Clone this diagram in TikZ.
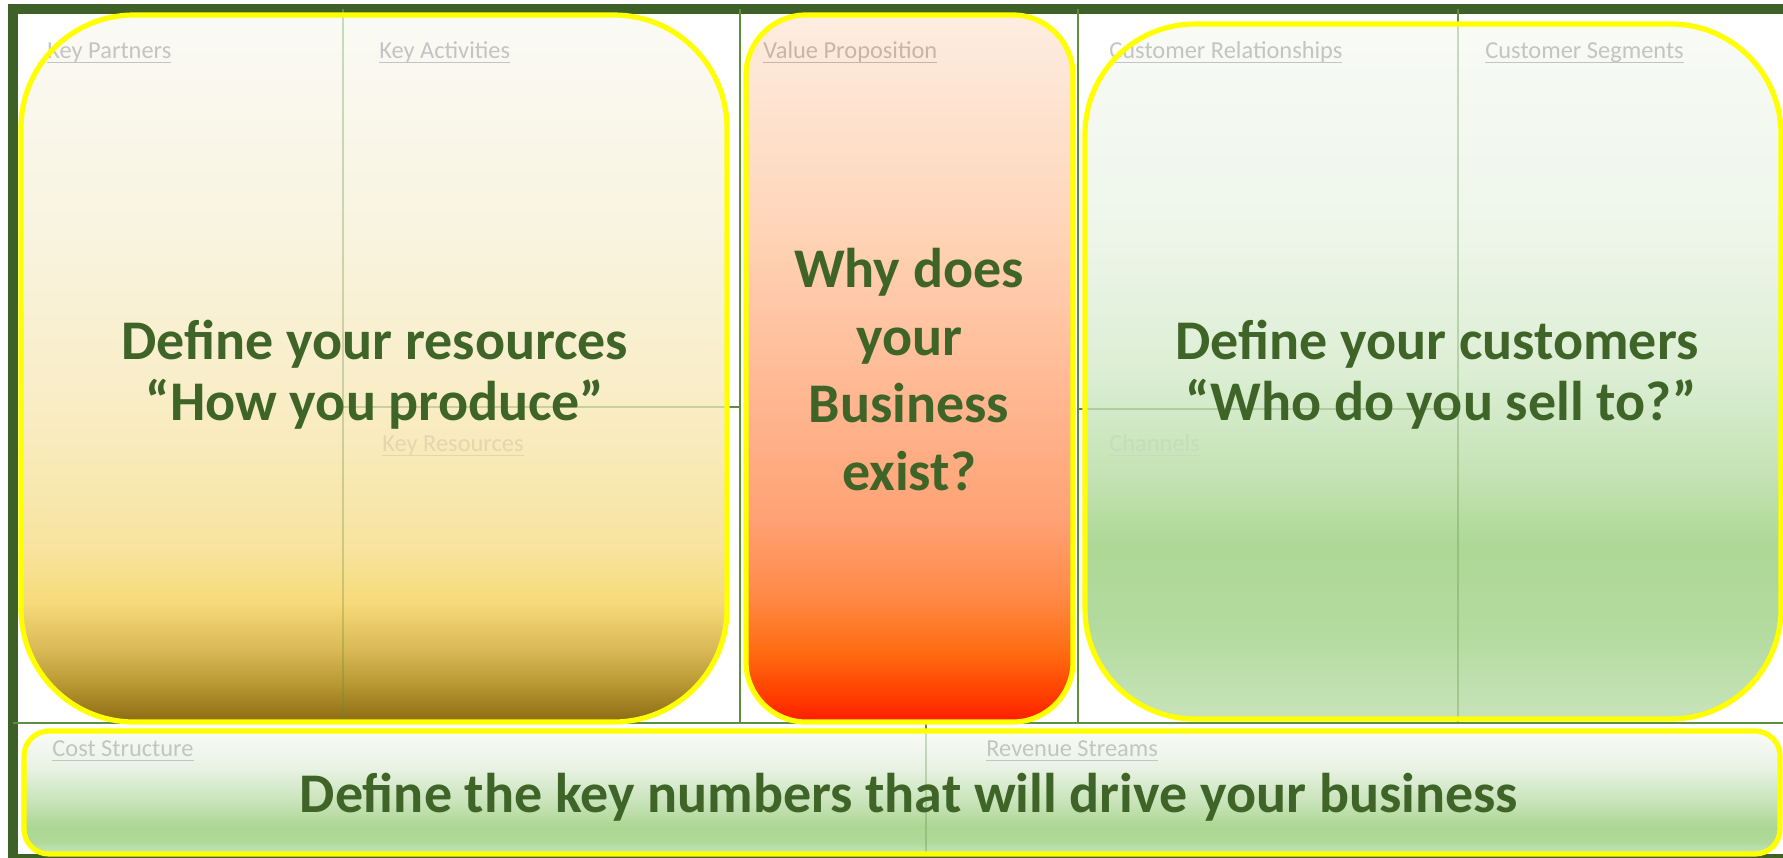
\documentclass[tikz,border=0pt]{standalone}
\usepackage{fontspec}
\setmainfont{Carlito}
\definecolor{framegreen}{HTML}{3D6127}
\definecolor{txtgreen}{HTML}{3F6428}
\definecolor{gridgreen}{HTML}{5E8E40}
\definecolor{boxyellow}{HTML}{FFFF00}
% left box
\definecolor{la}{HTML}{FAFAF5}
\definecolor{lb}{HTML}{F9F4E0}
\definecolor{lc}{HTML}{F9EDC6}
\definecolor{ld}{HTML}{F8E4A0}
\definecolor{le}{HTML}{F7DA7A}
\definecolor{lf}{HTML}{D8B855}
\definecolor{lg}{HTML}{B59530}
\definecolor{lh}{HTML}{8C6B12}
% middle box
\definecolor{ma}{HTML}{FDEDE1}
\definecolor{mb}{HTML}{FFD6BA}
\definecolor{mc}{HTML}{FFA275}
\definecolor{md}{HTML}{FF8A48}
\definecolor{me}{HTML}{FF6C12}
\definecolor{mf}{HTML}{FF4000}
\definecolor{mg}{HTML}{FF1C00}
% right box
\definecolor{ra}{HTML}{F8FAF6}
\definecolor{rb}{HTML}{EEF6EA}
\definecolor{rc}{HTML}{DCEED4}
\definecolor{rd}{HTML}{C4E3B4}
\definecolor{re}{HTML}{AED895}
\definecolor{rf}{HTML}{B4DBA0}
\definecolor{rg}{HTML}{C7E4B9}
% bottom box
\definecolor{ba}{HTML}{F9FBF8}
\definecolor{bb}{HTML}{E9F2E4}
\definecolor{bc}{HTML}{C5E2B5}
\definecolor{bd}{HTML}{ACD792}
\definecolor{be}{HTML}{B0D999}
\definecolor{bf}{HTML}{C8E5BB}
% label colours
\definecolor{lblgray}{HTML}{C4C4C4}
\definecolor{lblvp}{HTML}{C9B5A8}
\definecolor{lblkr}{HTML}{E3D7B0}
\definecolor{lblch}{HTML}{C5DDBA}
\definecolor{lblbot}{HTML}{C2C6BF}

\pgfdeclareverticalshading{lshade}{100bp}{color(0bp)=(lh); color(25bp)=(lh); color(27.5bp)=(lg); color(30bp)=(lf); color(33.5bp)=(le); color(37.5bp)=(ld); color(47.5bp)=(lc); color(60bp)=(lb); color(75bp)=(la); color(100bp)=(la)}
\pgfdeclareverticalshading{mshade}{100bp}{color(0bp)=(mg); color(25bp)=(mg); color(27bp)=(mf); color(30bp)=(me); color(34bp)=(md); color(39.5bp)=(mc); color(60.5bp)=(mb); color(75bp)=(ma); color(100bp)=(ma)}
\pgfdeclareverticalshading{rshade}{100bp}{color(0bp)=(rg); color(25bp)=(rg); color(31bp)=(rf); color(37.5bp)=(re); color(42.5bp)=(rd); color(50bp)=(rc); color(60bp)=(rb); color(75bp)=(ra); color(100bp)=(ra)}
\pgfdeclareverticalshading{bshade}{100bp}{color(0bp)=(bf); color(25bp)=(bf); color(30bp)=(be); color(36bp)=(bd); color(45bp)=(bc); color(60bp)=(bb); color(75bp)=(ba); color(100bp)=(ba)}

\newcommand{\ulabel}[1]{\setbox0=\hbox{#1}\leavevmode\rlap{\rule[-2.6pt]{\wd0}{0.7pt}}\box0}

\tikzset{
  gridline/.style={draw=gridgreen, line width=1pt},
  gridghost/.style={draw=gridgreen, line width=1pt, opacity=0.3},
  ybord/.style={draw=boxyellow, line width=2.6pt},
  lbl/.style={anchor=base west, inner sep=0pt, font=\fontsize{12.2}{14}\selectfont},
  bigtxt/.style={anchor=base, inner sep=0pt, text=txtgreen, font=\bfseries\fontsize{28}{34}\selectfont},
}

\begin{document}
\begin{tikzpicture}[x=0.5pt,y=-0.5pt]
\useasboundingbox (0,0) rectangle (1783,857);
\clip (0,0) rectangle (1783,857);

% outer frame
\draw[framegreen, line width=5pt] (13,8.5) rectangle (1800,859);

% grid lines
\draw[gridline] (343,9) -- (343,723);
\draw[gridline] (740,9) -- (740,723);
\draw[gridline] (1078,9) -- (1078,723);
\draw[gridline] (1458,9) -- (1458,723);
\draw[gridline] (13,723) -- (1783,723);
\draw[gridline] (343,407) -- (740,407);
\draw[gridline] (1078,409) -- (1458,409);
\draw[gridline] (926,723) -- (926,855);

% box fills
\shade[shading=lshade, rounded corners=56.5pt] (21,15) rectangle (727,722);
\shade[shading=mshade, rounded corners=30pt] (746,15) rectangle (1073,722);
\shade[shading=rshade, rounded corners=55pt] (1085,24) rectangle (1781,719);
\shade[shading=bshade, rounded corners=12.5pt] (24,731) rectangle (1780,854);

% grid lines showing through
\draw[gridghost] (343,15) -- (343,722);
\draw[gridghost] (1458,24) -- (1458,719);
\draw[gridghost] (343,407) -- (727,407);
\draw[gridghost] (1085,409) -- (1458,409);
\draw[gridghost] (926,731) -- (926,854);

% block labels
\node[lbl, text=lblgray] (kp) at (47,58) {\ulabel{Key Partners}};
\node[lbl, text=lblgray] (ka) at (379,58) {\ulabel{Key Activities}};
\node[lbl, text=lblvp] (vp) at (763,58) {\ulabel{Value Proposition}};
\node[lbl, text=lblgray] (cr) at (1109,58) {\ulabel{Customer Relationships}};
\node[lbl, text=lblgray] (cs) at (1485,58) {\ulabel{Customer Segments}};
\node[lbl, text=lblkr] (kr) at (382,451) {\ulabel{Key Resources}};
\node[lbl, text=lblch] (ch) at (1109,451) {\ulabel{Channels}};
\node[lbl, text=lblbot] (cost) at (52,756) {\ulabel{Cost Structure}};
\node[lbl, text=lblbot] (rev) at (986,756) {\ulabel{Revenue Streams}};

% yellow borders
\draw[ybord, rounded corners=56.5pt] (21,15) rectangle (727,722);
\draw[ybord, rounded corners=30pt] (746,15) rectangle (1073,722);
\draw[ybord, rounded corners=55pt] (1085,24) rectangle (1781,719);
\draw[ybord, rounded corners=12.5pt] (24,731) rectangle (1780,854);

% main texts
\node[bigtxt] (res1) at (375,359) {Define your resources};
\node[bigtxt] (res2) at (375,420) {“How you produce”};
\node[bigtxt] (why1) at (909,287) {Why does};
\node[bigtxt] (why2) at (909,355) {your};
\node[bigtxt] (why3) at (909,422) {Business};
\node[bigtxt] (why4) at (909,490) {exist?};
\node[bigtxt] (cus1) at (1437,359) {Define your customers};
\node[bigtxt] (cus2) at (1441,420) {“Who do you sell to?”};
\node[bigtxt] (num) at (909,812) {Define the key numbers that will drive your business};
\end{tikzpicture}
\end{document}
